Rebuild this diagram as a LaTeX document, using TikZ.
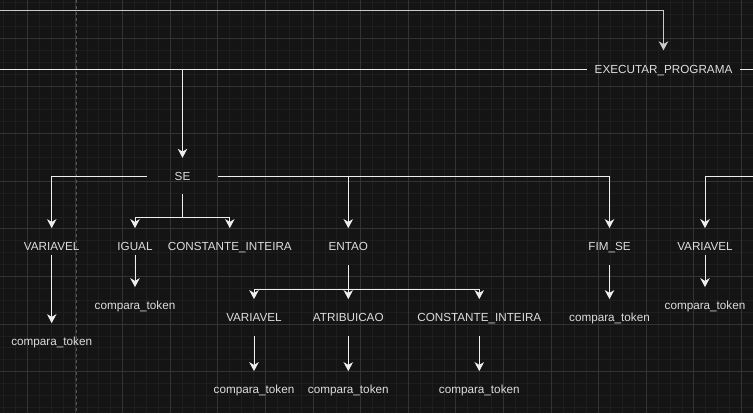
\documentclass[tikz,border=0pt]{standalone}
\usepackage{fontspec}
\setmainfont{Liberation Sans}
\usetikzlibrary{arrows.meta}
\definecolor{bg}{HTML}{141414}
\definecolor{minorgrid}{HTML}{1E1E1E}
\definecolor{majorgrid}{HTML}{333333}
\definecolor{pagedash}{HTML}{555555}
\definecolor{lineclr}{HTML}{EEEEEE}
\definecolor{txtclr}{HTML}{DDDDDD}
\tikzset{
  lbl/.style={text=txtclr, font=\fontsize{11.7}{13}\selectfont, inner sep=0pt, text height=8.4pt, text depth=0pt, minimum height=36.8pt, anchor=center},
  conn/.style={draw=lineclr, line width=1pt},
  arr/.style={conn, -{Stealth[length=9pt,width=9.5pt,inset=2.8pt]}},
  minorln/.style={draw=minorgrid, line width=0.6pt},
  majorln/.style={draw=majorgrid, line width=0.8pt},
}
\begin{document}
\begin{tikzpicture}[x=1pt,y=-1pt]
\fill[bg] (0,0) rectangle (753,413);
\useasboundingbox (0,0) rectangle (753,413);
% grid
\foreach \i in {0,...,62} {\draw[minorln] ({3.5+11.9*\i},0) -- ({3.5+11.9*\i},413);}
\foreach \j in {0,...,34} {\draw[minorln] (0,{2.6+11.9*\j}) -- (753,{2.6+11.9*\j});}
\foreach \i in {0,...,15} {\draw[majorln] ({27.3+47.6*\i},0) -- ({27.3+47.6*\i},413);}
\foreach \j in {0,...,8} {\draw[majorln] (0,{38.3+47.6*\j}) -- (753,{38.3+47.6*\j});}
\draw[pagedash, dashed, dash pattern=on 3pt off 3pt, line width=0.8pt] (76.3,0) -- (76.3,413);

% nodes
\node[lbl, minimum width=153pt] (ep) at (663.5,69.2) {EXECUTAR\_PROGRAMA};
\node[lbl, minimum width=71.3pt, minimum height=36pt] (se) at (182.5,176) {SE};
\node[lbl] (v1) at (51.7,246.7) {VARIAVEL};
\node[lbl] (ig) at (135,246.7) {IGUAL};
\node[lbl] (ci1) at (229.8,246.7) {CONSTANTE\_INTEIRA};
\node[lbl] (en) at (348.3,246.7) {ENTAO};
\node[lbl] (fs) at (609.5,246.7) {FIM\_SE};
\node[lbl] (v3) at (705,246.7) {VARIAVEL};
\node[lbl] (v2) at (254,317.7) {VARIAVEL};
\node[lbl] (at) at (348.3,317.7) {ATRIBUICAO};
\node[lbl] (ci2) at (479.3,317.7) {CONSTANTE\_INTEIRA};
\node[lbl] (ct1) at (51.7,341.7) {compara\_token};
\node[lbl] (ct2) at (135,305.7) {compara\_token};
\node[lbl] (ct3) at (254,389.7) {compara\_token};
\node[lbl] (ct4) at (348.3,389.7) {compara\_token};
\node[lbl] (ct5) at (479.3,389.7) {compara\_token};
\node[lbl] (ct6) at (609.5,317.7) {compara\_token};
\node[lbl] (ct7) at (705,305.7) {compara\_token};

% junction / free-end coordinates
\coordinate (topstart) at (0,10.3);
\coordinate (topcorner) at (663.5,10.3);
\coordinate (epleft) at (0,69.7);
\coordinate (epright) at (753,69.7);
\coordinate (sedrop) at (182.5,69.7);
\coordinate (j1) at (182.5,217.7);
\coordinate (j2) at (348.3,289.3);
\coordinate (rightin) at (753,176.3);

% connectors
\draw[arr, draw=lineclr!85!black] (topstart) -- (topcorner) -- (663.5,50.3);
\draw[conn] (epleft) -- (ep.west |- epleft);
\draw[conn] (ep.east |- epright) -- (epright);
\draw[arr] (sedrop) -- (se.north);
\draw[arr] (se.west |- 0,176.3) -| (v1.north);
\draw[arr] (se.east |- 0,176.3) -| (en.north);
\draw[arr] (se.east |- 0,176.3) -| (fs.north);
\draw[arr] (rightin) -| (v3.north);
\draw[arr] (se.south) -- (j1) -| (ig.north);
\draw[arr] (se.south) -- (j1) -| (ci1.north);
\draw[arr] ([yshift=10.8pt]v1.south) -- (ct1.north);
\draw[arr] ([yshift=10.8pt]ig.south) -- (ct2.north);
\draw[arr] ([yshift=10.8pt]v3.south) -- (ct7.north);
\draw[arr] (fs.south) -- (ct6.north);
\draw[arr] (en.south) -- (j2) -| (v2.north);
\draw[arr] (en.south) -- (at.north);
\draw[arr] (j2) -| (ci2.north);
\draw[arr] (v2.south) -- (ct3.north);
\draw[arr] (at.south) -- (ct4.north);
\draw[arr] (ci2.south) -- (ct5.north);
\end{tikzpicture}
\end{document}
